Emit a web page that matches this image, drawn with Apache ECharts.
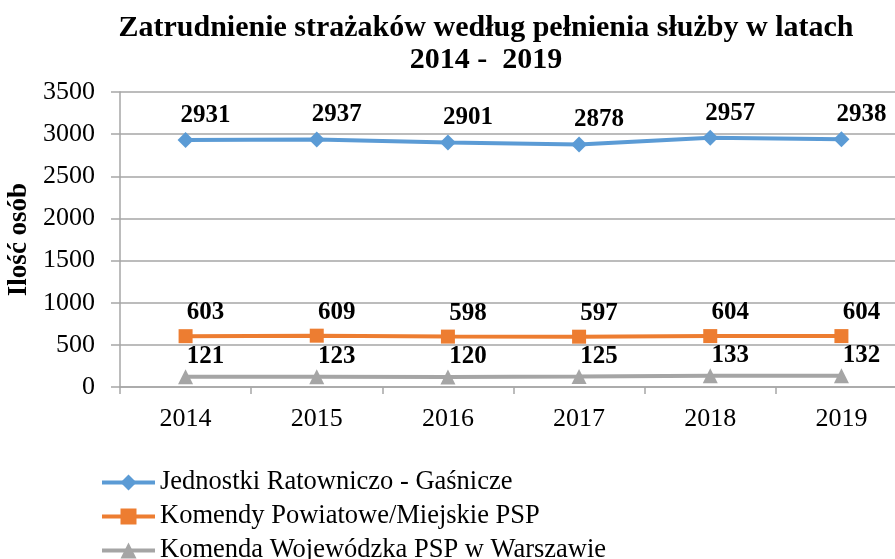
<!DOCTYPE html>
<html>
<head>
<meta charset="utf-8">
<script src="https://cdn.jsdelivr.net/npm/echarts@6/dist/echarts.min.js"></script>
<style>
  html, body { margin: 0; padding: 0; background: #fff; }
  #chart { width: 895px; height: 559px; }
</style>
</head>
<body>
<div id="chart"></div>
<script>
// Employment of firefighters by type of service, 2014-2019
const years = ['2014', '2015', '2016', '2017', '2018', '2019'];
const jrgValues = [2931, 2937, 2901, 2878, 2957, 2938];
const kpmValues = [603, 609, 598, 597, 604, 604];
const kwValues = [121, 123, 120, 125, 133, 132];
const seriesNames = [
  'Jednostki Ratowniczo - Gaśnicze',
  'Komendy Powiatowe/Miejskie PSP',
  'Komenda Wojewódzka PSP w Warszawie'
];

const FONT = '"Liberation Serif", "Times New Roman", serif';

function lineSeries(name, values, color, symbol, size, labelDistance) {
  return {
    name: name,
    type: 'line',
    data: values,
    symbol: symbol,
    symbolSize: size,
    lineStyle: { color: color, width: 4 },
    itemStyle: { color: color },
    label: {
      show: true,
      position: 'top',
      distance: labelDistance,
      offset: [20, 0],
      fontFamily: FONT,
      fontWeight: 'bold',
      fontSize: 25,
      color: '#000'
    }
  };
}

const chart = echarts.init(document.getElementById('chart'));
chart.setOption({
  animation: false,
  backgroundColor: '#fff',
  textStyle: { fontFamily: FONT },
  title: {
    text: 'Zatrudnienie strażaków według pełnienia służby w latach\n2014 -  2019',
    left: 481,
    top: 7,
    textAlign: 'center',
    textStyle: {
      fontFamily: FONT,
      fontWeight: 'bold',
      fontSize: 30,
      lineHeight: 32,
      color: '#000'
    }
  },
  grid: {
    left: 120, right: -12, top: 92, bottom: 172,
    containLabel: false,
    outerBoundsMode: 'none'
  },
  legend: {
    orient: 'vertical',
    left: 95,
    top: 464,
    height: 200,
    itemWidth: 53,
    itemHeight: 20,
    itemGap: 7,
    lineStyle: { width: 4 },
    textStyle: { fontFamily: FONT, fontSize: 26.5, color: '#000', lineHeight: 26 },
    data: seriesNames
  },
  xAxis: {
    type: 'category',
    data: years,
    boundaryGap: true,
    axisLine: { lineStyle: { color: '#a6a6a6', width: 1.5 } },
    axisTick: { show: true, length: 7, lineStyle: { color: '#a6a6a6', width: 1.5 } },
    axisLabel: { fontFamily: FONT, fontSize: 26, color: '#000', margin: 19 },
    splitLine: { show: false }
  },
  yAxis: {
    type: 'value',
    min: 0,
    max: 3500,
    interval: 500,
    name: 'Ilość osób',
    nameLocation: 'middle',
    nameGap: 86,
    nameTextStyle: { fontFamily: FONT, fontWeight: 'bold', fontSize: 27, color: '#000' },
    axisLine: { show: true, lineStyle: { color: '#a6a6a6', width: 1.5 } },
    axisTick: { show: true, length: 9, lineStyle: { color: '#a6a6a6', width: 1.5 } },
    axisLabel: {
      fontFamily: FONT, fontSize: 26, color: '#000', margin: 25,
      formatter: function (v) { return String(v); }
    },
    splitLine: { show: true, lineStyle: { color: '#a6a6a6', width: 1.5 } }
  },
  series: [
    lineSeries(seriesNames[0], jrgValues, '#5b9bd5', 'diamond', 16, 4),
    lineSeries(seriesNames[1], kpmValues, '#ed7d31', 'rect', 14, 4),
    lineSeries(seriesNames[2], kwValues, '#a5a5a5', 'triangle', 15, 0)
  ]
});
</script>
</body>
</html>
